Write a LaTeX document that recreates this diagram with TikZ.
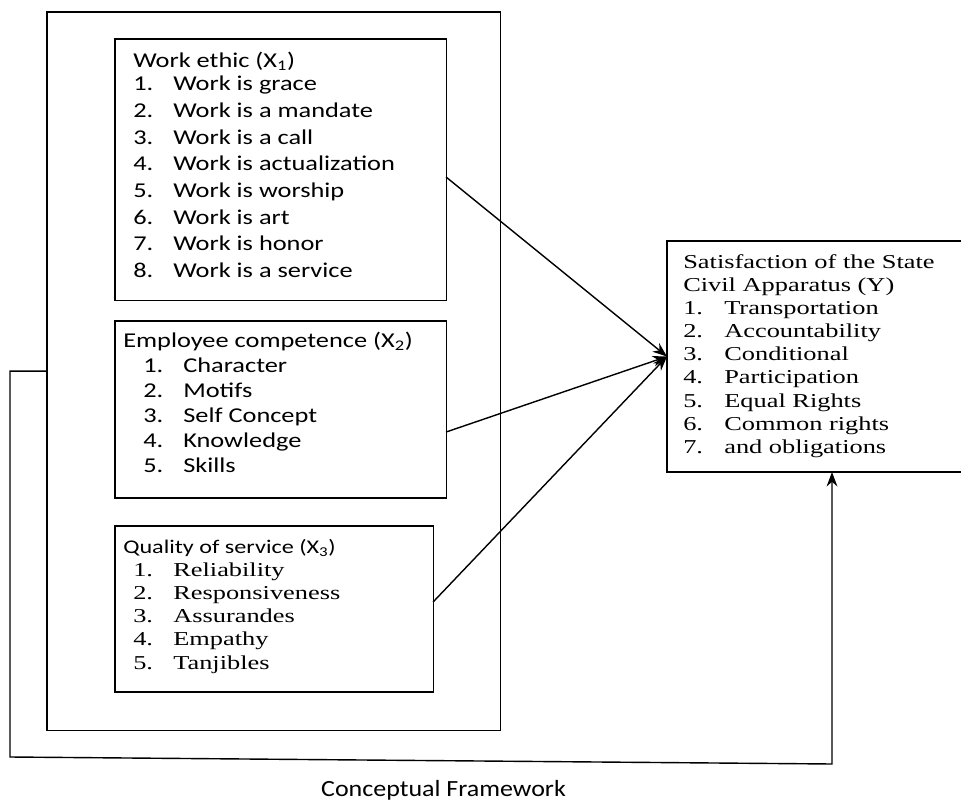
\documentclass[tikz,border=0pt]{standalone}
\usepackage{fontspec}
\usepackage{tikz}
\usetikzlibrary{arrows.meta, positioning, calc}
\newfontfamily\calib[FakeStretch=1.25]{Carlito}
\newfontfamily\tnr[FakeStretch=1.34]{Liberation Serif}
\newfontfamily\capfont[FakeStretch=1.12]{Carlito}

\begin{document}
\begin{tikzpicture}[
    x=0.025cm, y=-0.025cm,
    box/.style={rectangle, draw=black, line width=0.8pt, anchor=north west, inner sep=0pt, outer sep=0pt},
    calibtext/.style={anchor=base west, inner sep=0pt, font=\calib\fontsize{15}{18}\selectfont},
    timestext/.style={anchor=base west, inner sep=0pt, font=\tnr\fontsize{14}{17}\selectfont},
    arrow/.style={line width=1pt, -{Stealth[length=0.36cm, width=0.27cm]}}
]
\useasboundingbox (0,0) rectangle (961,801);

    % frame round the independent variables
    \node[box, minimum width=11.325cm, minimum height=17.95cm] (frame) at (47,12) {};

    \node[box, minimum width=8.275cm, minimum height=6.525cm] (ethic) at (115,39) {};
    \node[box, minimum width=8.275cm, minimum height=4.425cm] (comp) at (115,321) {};
    \node[box, minimum width=7.95cm, minimum height=4.15cm] (qual) at (115,526) {};
    \node[box, minimum width=7.39cm, minimum height=5.775cm] (sat) at (667,241) {};

    % X1
    \node[calibtext] (ethic-title) at (133,67.3) {Work ethic (X\textsubscript{1})};
    \foreach \t [count=\i] in {Work is grace, Work is a mandate, Work is a call, Work is actualization,
        Work is worship, Work is art, Work is honor, Work is a service} {
        \node[calibtext] (ethic-n\i) at (133, 64+26.7*\i) {\i.};
        \node[calibtext] (ethic-\i) at (173, 64+26.7*\i) {\t};
    }

    % X2
    \node[calibtext] (comp-title) at (123,347.3) {Employee competence (X\textsubscript{2})};
    \foreach \t [count=\i] in {Character, Motifs, Self Concept, Knowledge, Skills} {
        \node[calibtext] (comp-n\i) at (143, 347.3+25*\i) {\i.};
        \node[calibtext] (comp-\i) at (183, 347.3+25*\i) {\t};
    }

    % X3
    \node[calibtext, font=\calib\fontsize{13.75}{17}\selectfont] (qual-title) at (123,553.3) {Quality of service (X\textsubscript{3})};
    \foreach \t [count=\i] in {Reliability, Responsiveness, Assurandes, Empathy, Tanjibles} {
        \node[timestext] (qual-n\i) at (133, 552.7+23.3*\i) {\i.};
        \node[timestext] (qual-\i) at (173, 552.7+23.3*\i) {\t};
    }

    % Y
    \node[timestext] (sat-title1) at (683,268) {Satisfaction of the State};
    \node[timestext] (sat-title2) at (683,291) {Civil Apparatus (Y)};
    \foreach \t [count=\i] in {Transportation, Accountability, Conditional, Participation,
        Equal Rights, Common rights, and obligations} {
        \node[timestext] (sat-n\i) at (683, 290.7+23.3*\i) {\i.};
        \node[timestext] (sat-\i) at (724, 290.7+23.3*\i) {\t};
    }

    \draw[arrow] ([yshift=-0.1875cm]ethic.east) -- (sat.west);
    \draw[arrow] ([yshift=-0.5625cm]comp.east) -- (sat.west);
    \draw[arrow] ([yshift=0.175cm]qual.east) -- (sat.west);

    \coordinate (back-corner) at (10,757);
    \coordinate (back-end) at (832,764);
    \draw[arrow] (frame.west) -| (back-corner) -- (back-end) -- (back-end |- sat.south);

    \node[anchor=base, inner sep=0pt, font=\capfont\fontsize{16.5}{20}\selectfont] (caption) at (443.5,796) {Conceptual Framework};

\end{tikzpicture}
\end{document}
